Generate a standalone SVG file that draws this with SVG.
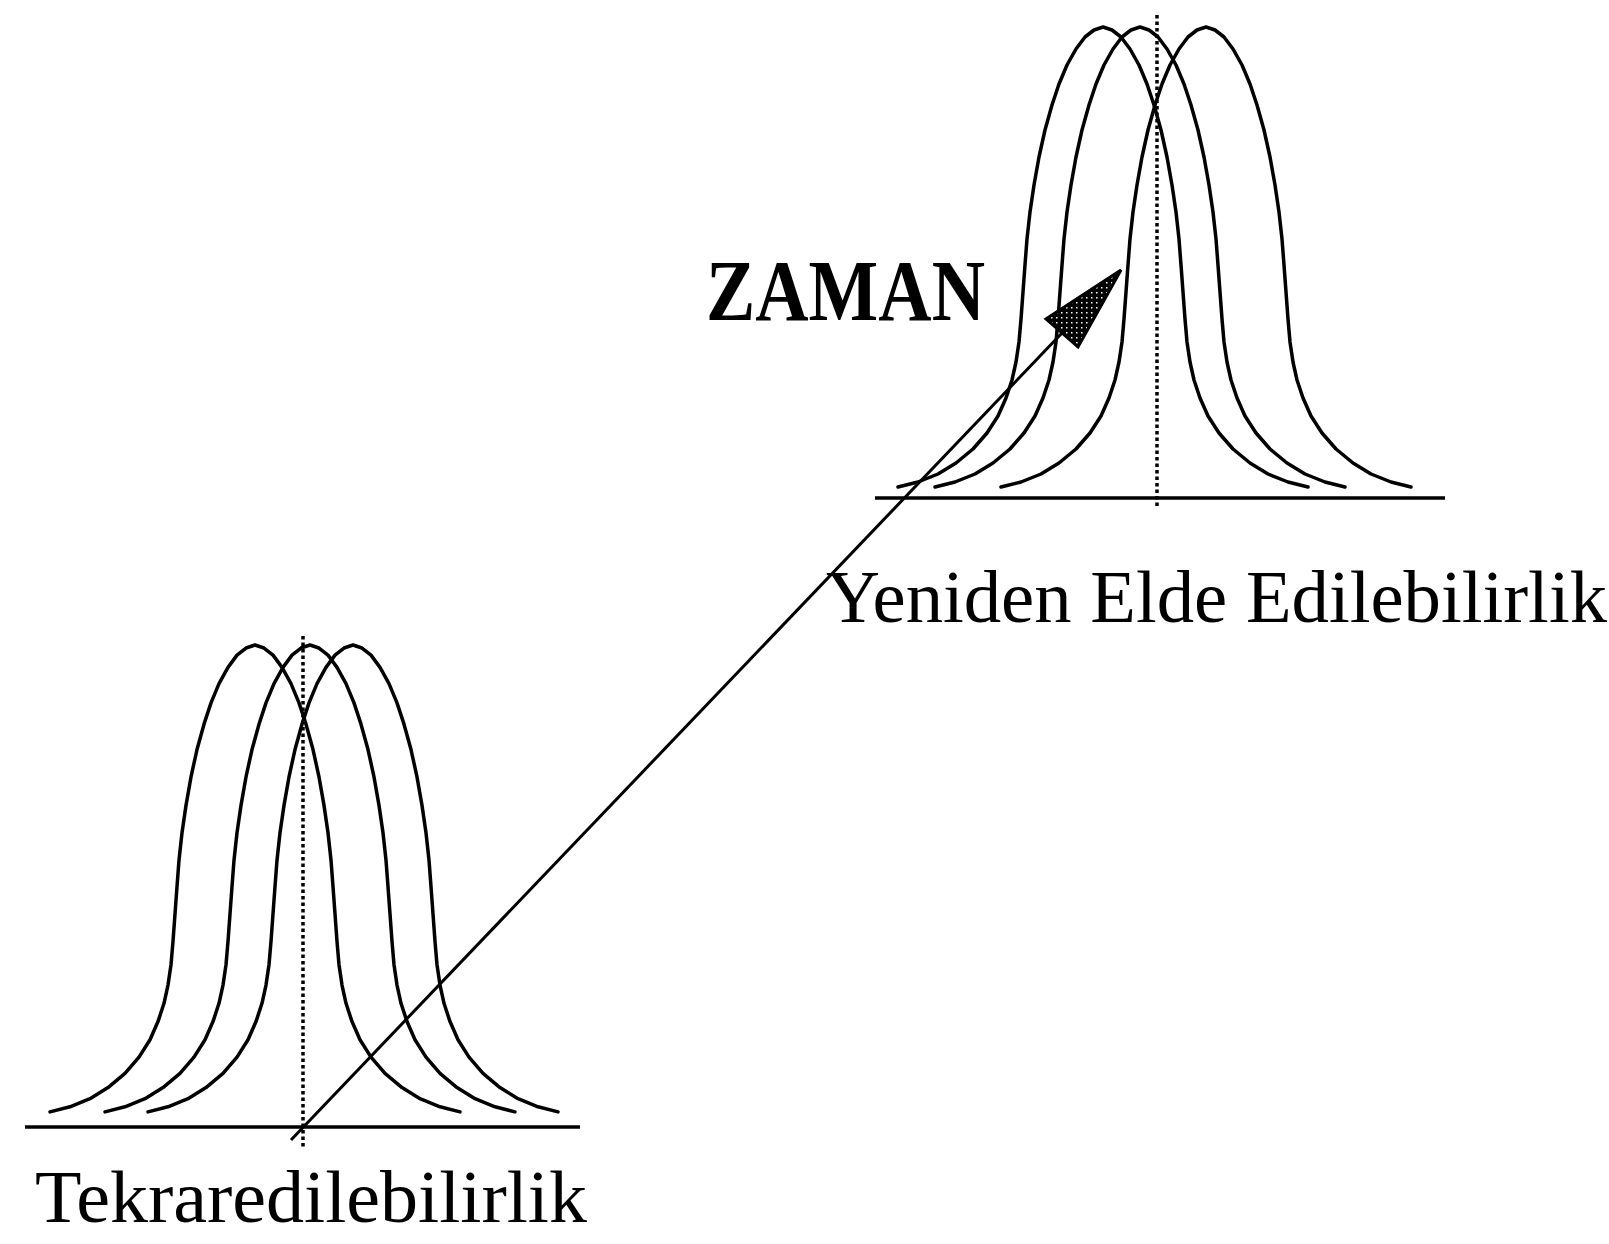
<svg xmlns="http://www.w3.org/2000/svg" xmlns:xlink="http://www.w3.org/1999/xlink" width="1609" height="1244" viewBox="0 0 1609 1244">
<style>
.curve{fill:none;stroke:#000;stroke-width:3.5;stroke-linejoin:round;stroke-linecap:round}
.axis{stroke:#000;stroke-width:3.5;fill:none}
.dot{stroke:#000;stroke-width:3.5;stroke-dasharray:3.5 3;fill:none}
.conn{stroke:#000;stroke-width:3;fill:none}
.lbl{font-family:"Liberation Serif","Times New Roman",serif;fill:#000}
</style>
<defs>
<path id="bell" d="M-205,460 L-185,455 -165,447 -147,436 -130,422 -116,406 -105,389 -97,371 -91,353 -87,335 -84,315 -82,292 -80,265 -78,238 -76,212 -73,185 -69,158 -64,130 -58,103 -51,78 -44,57 -36,38 -27,22 -18,10 -9,3 0,0 9,3 18,10 27,22 36,38 44,57 51,78 58,103 64,130 69,158 73,185 76,212 78,238 80,265 82,292 84,315 87,335 91,353 97,371 105,389 116,406 130,422 147,436 165,447 185,455 205,460"/>
<pattern id="stip" width="5" height="5" patternUnits="userSpaceOnUse">
<rect width="5" height="5" fill="#000"/>
<rect x="1" y="2" width="1.5" height="1.5" fill="#fff"/>
</pattern>
</defs>
<rect width="1609" height="1244" fill="#fff"/>

<g id="fig-top">
<line class="axis" x1="875" y1="498" x2="1445" y2="498"/>
<line class="dot" x1="1157" y1="15" x2="1157" y2="508"/>
<use xlink:href="#bell" class="curve" transform="translate(1103,27)"/>
<use xlink:href="#bell" class="curve" transform="translate(1140,27)"/>
<use xlink:href="#bell" class="curve" transform="translate(1206,27)"/>
</g>

<g id="fig-bottom">
<line class="axis" x1="25" y1="1127" x2="580" y2="1127"/>
<line class="dot" x1="303" y1="636" x2="303" y2="1148"/>
<use xlink:href="#bell" class="curve" transform="translate(255,645) scale(1,1.015)"/>
<use xlink:href="#bell" class="curve" transform="translate(310,645) scale(1,1.015)"/>
<use xlink:href="#bell" class="curve" transform="translate(353,645) scale(1,1.015)"/>
</g>

<g id="connectors">
<line class="conn" x1="291" y1="1140" x2="1062" y2="333"/>
<polygon points="1121,270 1046,319 1078,347" fill="url(#stip)" stroke="#000" stroke-width="3" stroke-linejoin="miter"/>
</g>

<g id="labels">
<text class="lbl" x="706" y="320" font-size="86" font-weight="bold" textLength="279" lengthAdjust="spacingAndGlyphs">ZAMAN</text>
<text class="lbl" x="826" y="622" font-size="74" textLength="781" lengthAdjust="spacingAndGlyphs">Yeniden Elde Edilebilirlik</text>
<text class="lbl" x="35" y="1222" font-size="73" textLength="552" lengthAdjust="spacingAndGlyphs">Tekraredilebilirlik</text>
</g>
</svg>
